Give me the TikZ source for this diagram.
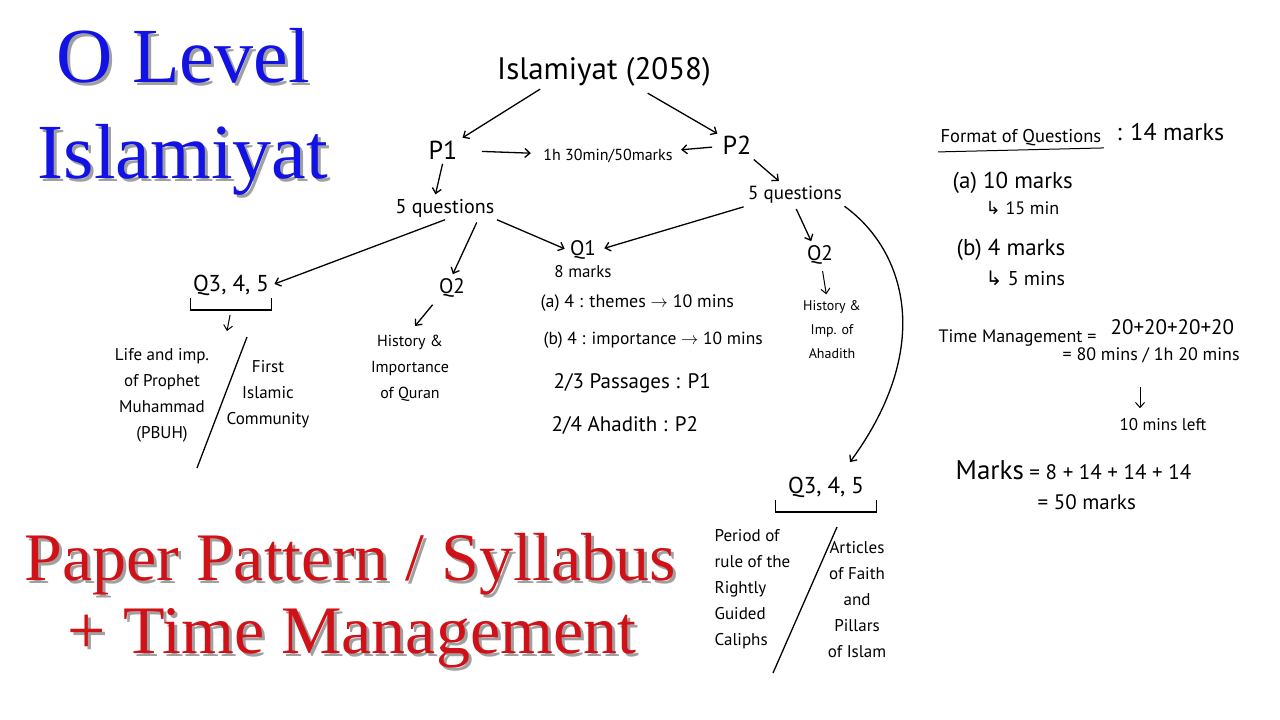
\documentclass[tikz,border=0pt]{standalone}
\usepackage{fontspec}
\setmainfont{PT Sans}
\newfontfamily\titlefont{Liberation Serif}
\newfontfamily\symfont{DejaVu Sans}
\usetikzlibrary{arrows.meta}

\definecolor{titleblue}{RGB}{18,18,228}
\definecolor{titlered}{RGB}{208,18,24}
\definecolor{shadowgray}{RGB}{160,160,160}

\newcommand\bigtitle{\titlefont\fontsize{78}{80}\selectfont}
\newcommand\subtitle{\titlefont\fontsize{68}{70}\selectfont}
\newcommand\shadowed[1]{\makebox[0pt][l]{\kern3pt\raisebox{-3pt}{\color{shadowgray}#1}}#1}

\begin{document}
\begin{tikzpicture}[x=1pt, y=-1pt, >={Straight Barb[length=5pt,width=9pt]}, line width=1.3pt]
    \tikzstyle{hand} = [inner sep=2pt, align=center, font=\fontsize{17}{26}\selectfont]
    \tikzstyle{small} = [font=\fontsize{14}{24}\selectfont]
    \tikzstyle{big} = [font=\fontsize{21}{26}\selectfont]
    \tikzstyle{large} = [font=\fontsize{23}{26}\selectfont]
    \tikzstyle{blue title} = [anchor=base, text=titleblue, inner sep=0pt, font=\bigtitle]
    \tikzstyle{red title} = [anchor=base, text=titlered, inner sep=0pt, font=\subtitle]

    \useasboundingbox (0,0) rectangle (1280,720);

    % titles
    \node [blue title] (olevel) at (183,82) {\shadowed{O Level}};
    \node [blue title] (islamiyat) at (183,178) {\shadowed{Islamiyat}};
    \node [red title] (pattern) at (350,580) {\shadowed{Paper Pattern / Syllabus}};
    \node [red title] (timemgmt) at (352,653) {\shadowed{+ Time Management}};

    % papers
    \node [hand, font=\fontsize{31}{33}\selectfont] (isl) at (604,72) {Islamiyat (2058)};
    \node [hand, font=\fontsize{26}{28}\selectfont] (p1) at (443,150) {P1};
    \node [hand, font=\fontsize{26}{28}\selectfont] (p2) at (737,145) {P2};
    \node [hand, font=\fontsize{16}{20}\selectfont] (dur) at (608,156) {1h 30min/50marks};
    \node [hand, font=\fontsize{20}{24}\selectfont] (q5l) at (445,208) {5 questions};
    \node [hand, font=\fontsize{19}{24}\selectfont] (q5r) at (795,195) {5 questions};

    % paper 1
    \node [hand, large] (q345l) at (231,285) {Q3, 4, 5};
    \coordinate (splitl) at (227,331);
    \node [hand] (life) at (162,395) {Life and imp.\\of Prophet\\Muhammad\\(PBUH)};
    \node [hand] (first) at (268,394) {First\\Islamic\\Community};
    \node [hand, big] (q2l) at (452,288) {Q2};
    \node [hand, font=\fontsize{16}{26}\selectfont] (quran) at (410,368) {History \&\\Importance\\of Quran};

    % question 1
    \node [hand, big] (q1) at (583,250) {Q1};
    \node [hand, below of=q1, node distance=22pt] (q1m) {8 marks};
    \node [hand, font=\fontsize{18}{20}\selectfont, anchor=west] (qa1) at (538,303) {(a) 4 : themes $\rightarrow$ 10 mins};
    \node [hand, font=\fontsize{17.5}{20}\selectfont, anchor=west] (qb1) at (541,340) {(b) 4 : importance $\rightarrow$ 10 mins};
    \node [hand, big, anchor=west] (pass) at (551,383) {2/3 Passages : P1};
    \node [hand, big, anchor=west] (ahad) at (549,425) {2/4 Ahadith : P2};

    % paper 2
    \node [hand, big] (q2r) at (820,255) {Q2};
    \node [hand, small] (hadr) at (832,330) {History \&\\Imp. of\\Ahadith};
    \node [hand, large, inner xsep=12pt] (q345r) at (826,487) {Q3, 4, 5};
    \node [hand, align=left, anchor=north west] (calip) at (712,527) {Period of\\rule of the\\Rightly\\Guided\\Caliphs};
    \node [hand] (artic) at (857,600) {Articles\\of Faith\\and\\Pillars\\of Islam};

    % format and timing
    \node [hand, font=\fontsize{18.5}{20}\selectfont, anchor=west] (fmt) at (938,138) {Format of Questions};
    \node [hand, font=\fontsize{24}{26}\selectfont, anchor=west] (fmtm) at (1114,132) {: 14 marks};
    \node [hand, large, anchor=west] (fa) at (950,183) {(a) 10 marks};
    \node [hand, font=\fontsize{18}{20}\selectfont, anchor=west] (fat) at (983,208) {{\symfont ↳} 15 min};
    \node [hand, large, anchor=west] (fb) at (954,250) {(b) 4 marks};
    \node [hand, font=\fontsize{20}{22}\selectfont, anchor=west] (fbt) at (983,278) {{\symfont ↳} 5 mins};
    \node [hand, font=\fontsize{18}{20}\selectfont, anchor=west] (tm) at (936,338) {Time Management =};
    \node [hand, big, anchor=west] (tmsum) at (1108,327) {20+20+20+20};
    \node [hand, font=\fontsize{18}{20}\selectfont, anchor=west] (tmtot) at (1060,355) {= 80 mins / 1h 20 mins};
    \node [hand] (left10) at (1163,425) {10 mins left};
    \node [hand, big, anchor=west] (mk) at (953,470) {{\fontsize{27}{28}\selectfont Marks} = 8 + 14 + 14 + 14};
    \node [hand, big, anchor=west] (mktot) at (1035,502) {= 50 marks};

    % brackets, splits and underline
    \draw (q345l.south west) -- ++(0,12) -| (q345l.south east);
    \coordinate (brl) at ([yshift=-12pt]q345l.south);
    \draw (q345r.south west) -- ++(0,12) -| (q345r.south east);
    \coordinate (brtm) at ([xshift=-23pt]left10.north);
    \draw (247,337) -- (197,468);
    \draw (837,527) -- (773,673);
    \draw [line width=1pt] ([yshift=-3pt]fmt.south west) -- ([yshift=1pt]fmt.south east);

    % connectors
    \draw [->, shorten >=3pt] (isl.195) -- (p1);
    \draw [->, shorten <=8pt, shorten >=3pt] (isl.-25) -- (p2);
    \draw [->, shorten <=22pt, shorten >=10pt] (p1) -- (dur);
    \draw [->, shorten <=8pt, shorten >=6pt] (p2) -- (dur);
    \draw [->, shorten <=2pt, shorten >=2pt] (p1.south) -- ([xshift=-10pt]q5l.north);
    \draw [->, shorten <=4pt, shorten >=4pt] (p2) -- (q5r);
    \draw [->, shorten >=3pt] (q5l.south) -- (q345l.east);
    \draw [->, shorten <=3pt, shorten >=2pt] ([xshift=33pt]q5l.south) -- (q2l.north);
    \draw [->, shorten >=3pt] (q5l.south east) -- (q1.west);
    \draw [->, shorten <=2pt, shorten >=6pt] (q5r.south west) -- (q1.east);
    \draw [->, shorten <=3pt, shorten >=2pt] (q5r.south) -- ([xshift=-8pt]q2r.north);
    \draw [->] (q5r.south east) .. controls (905,250) and (935,346) .. ([xshift=24pt,yshift=12pt]q345r.north);
    \draw [->, shorten <=6pt, shorten >=8pt] (q2l.south west) -- (quran.north);
    \draw [->, line width=1pt, shorten <=4pt, shorten >=4pt] (q2r) -- (hadr);
    \draw [->, line width=1pt, shorten <=5pt] (brl) -- (splitl);
    \draw [->, line width=1pt, shorten <=22pt, shorten >=8pt] (tmtot.south -| brtm) -- (brtm);
\end{tikzpicture}
\end{document}
